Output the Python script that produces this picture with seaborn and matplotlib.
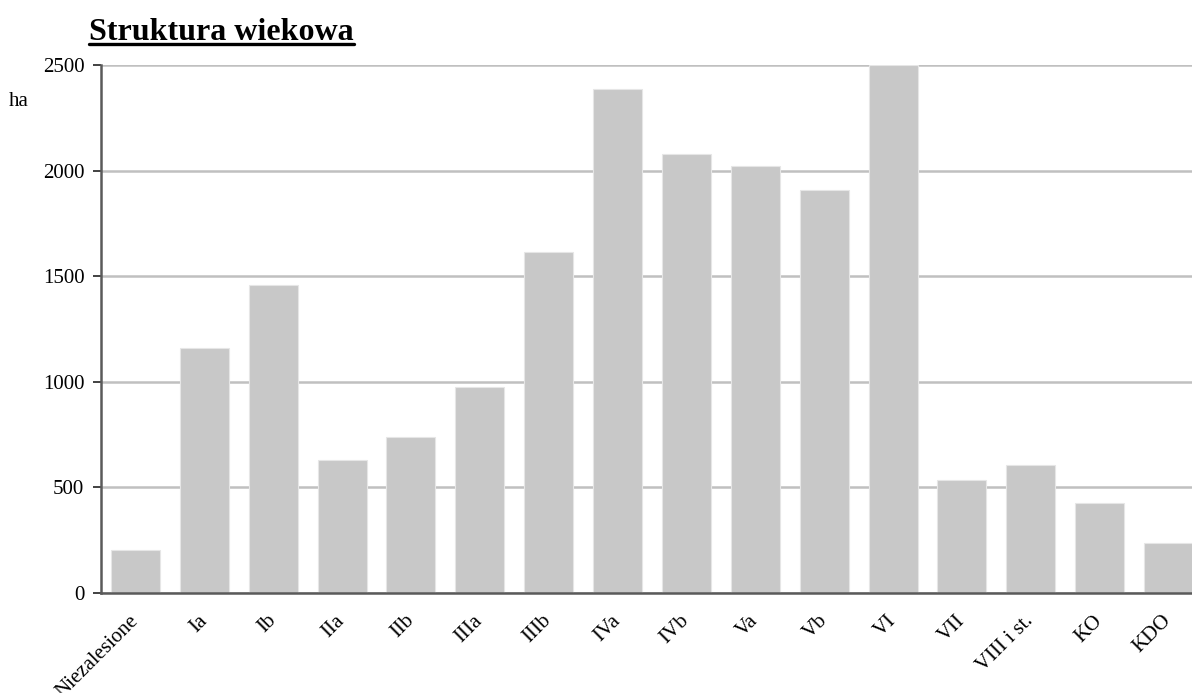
import matplotlib
matplotlib.use("Agg")
import matplotlib.pyplot as plt
from matplotlib.lines import Line2D
import seaborn as sns
import pandas as pd

categories = ["Niezalesione", "Ia", "Ib", "IIa", "IIb", "IIIa", "IIIb", "IVa",
              "IVb", "Va", "Vb", "VI", "VII", "VIII i st.", "KO", "KDO"]
values = [205, 1160, 1460, 632, 737, 975, 1615, 2388,
          2080, 2022, 1907, 2500, 535, 604, 426, 235]
y_ticks = [0, 500, 1000, 1500, 2000, 2500]
title_text = "Struktura wiekowa"
unit_text = "ha"

sns.set_theme(style="white")
plt.rcParams["font.family"] = ["Liberation Serif", "DejaVu Serif"]
plt.rcParams["text.color"] = "black"

df = pd.DataFrame({"cat": categories, "val": values})

fig = plt.figure(figsize=(11.92, 6.93), dpi=100)
ax = fig.add_axes([101 / 1192, 1 - 593 / 693, (1203 - 101) / 1192, (593 - 65) / 693])

sns.barplot(data=df, x="cat", y="val", color="#c8c8c8", saturation=1,
            width=0.71, edgecolor="#e6e6e6", linewidth=0.8, ax=ax)

ax.set_ylim(0, 2500)
ax.set_xlim(-0.5, len(categories) - 0.5)
ax.set_yticks(y_ticks)
ax.set_yticklabels([str(t) for t in y_ticks], fontsize=15)
ax.set_axisbelow(True)
ax.yaxis.grid(True, color="#c0c0c0", linewidth=1.8)
ax.xaxis.grid(False)
ax.set_xlabel("")
ax.set_ylabel("")

for s in ["top", "right"]:
    ax.spines[s].set_visible(False)
for s in ["left", "bottom"]:
    ax.spines[s].set_color("#5a5a5a")
    ax.spines[s].set_linewidth(1.8)

ax.tick_params(axis="y", which="major", length=6, width=1.2, color="#222222",
               direction="out", pad=6, labelcolor="black", left=True)
ax.tick_params(axis="x", which="major", length=0, pad=18, labelcolor="black")

ax.set_xticks(range(len(categories)))
ax.set_xticklabels(categories, rotation=45, ha="right", va="center",
                   rotation_mode="anchor", fontsize=15)

# unit label
fig.text(9 / 1192, 1 - 101 / 693, unit_text, fontsize=15, ha="left", va="center")

# title with underline
t = fig.text(89 / 1192, 1 - 32.5 / 693, title_text, fontsize=23, fontweight="bold",
             ha="left", va="center")
fig.canvas.draw()
bb = t.get_window_extent(renderer=fig.canvas.get_renderer())
x0, x1 = bb.x0 / fig.bbox.width, bb.x1 / fig.bbox.width
yl = 1 - 43.5 / 693
fig.add_artist(Line2D([x0, x1], [yl, yl], transform=fig.transFigure,
                      color="black", linewidth=2.4))

fig.savefig("out.png", dpi=100)
